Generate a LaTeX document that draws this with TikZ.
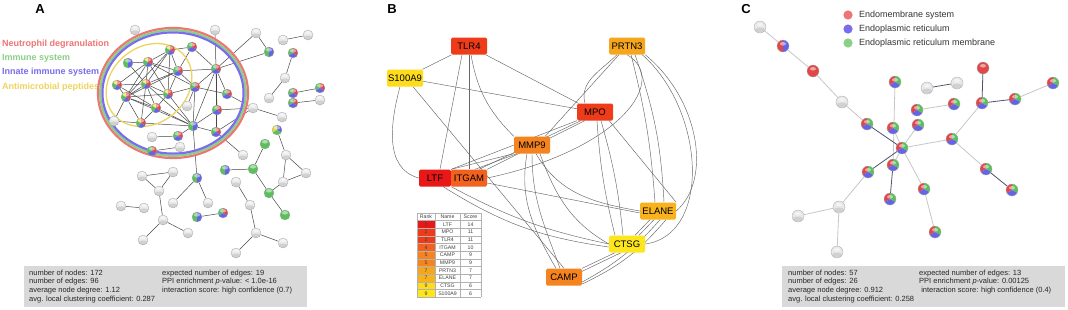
\documentclass[tikz,border=0pt]{standalone}
\usepackage{fontspec}
\setmainfont{Liberation Sans}
\pgfdeclarelayer{background}
\pgfdeclarelayer{edges}
\pgfsetlayers{background,edges,main}

\definecolor{pred}{HTML}{E04848}
\definecolor{pgreen}{HTML}{5CBF5C}
\definecolor{pblue}{HTML}{6464E6}
\definecolor{pyel}{HTML}{E2D83C}
\definecolor{lred}{HTML}{F07474}
\definecolor{lgreen}{HTML}{8CCF86}
\definecolor{lblue}{HTML}{7A6CEC}
\definecolor{lyel}{HTML}{EED45E}
\definecolor{boxgray}{HTML}{D9D9D9}
\definecolor{edgedark}{HTML}{4E5470}
\definecolor{rk1}{HTML}{E81818}
\definecolor{rk2}{HTML}{EE3C1A}
\definecolor{rk4}{HTML}{F2621E}
\definecolor{rk5}{HTML}{F58420}
\definecolor{rk7}{HTML}{F6A61C}
\definecolor{rk7b}{HTML}{F7B21C}
\definecolor{rk9}{HTML}{FDDC1C}
\definecolor{rk9b}{HTML}{FDE61C}

\newcommand\pwedge[3]{\fill[#1] (path picture bounding box.center) -- ++(#2:8pt) arc[start angle=#2,end angle=#3,radius=8pt] -- cycle;}
\newcommand\gloss{\fill[white,opacity=.5] ([yshift=2.2pt]path picture bounding box.center) ellipse [x radius=3pt, y radius=1.8pt];}

\tikzset{
  ppi/.style={circle, inner sep=0pt, draw=black!35, line width=0.3pt},
  ppiA/.style={ppi, minimum size=10pt},
  ppiC/.style={ppi, minimum size=12pt},
  gball/.style={fill=black!9, draw=black!35, path picture={\fill[black!18] ([yshift=-3pt]path picture bounding box.center) ellipse [x radius=5pt, y radius=2.5pt];\gloss}},
  gfull/.style={fill=pgreen, path picture={\gloss}},
  rfull/.style={fill=pred, path picture={\gloss}},
  rgb/.style={path picture={\pwedge{pred}{-30}{90}\pwedge{pgreen}{90}{210}\pwedge{pblue}{210}{330}\gloss}},
  rgbc/.style={path picture={\pwedge{pred}{90}{210}\pwedge{pgreen}{-30}{90}\pwedge{pblue}{210}{330}\gloss}},
  rgby/.style={path picture={\pwedge{pyel}{90}{150}\pwedge{pgreen}{150}{240}\pwedge{pblue}{240}{330}\pwedge{pred}{-30}{90}\gloss}},
  ygb/.style={path picture={\pwedge{pyel}{90}{210}\pwedge{pblue}{-30}{90}\pwedge{pgreen}{210}{330}\gloss}},
  gb/.style={path picture={\pwedge{pgreen}{90}{270}\pwedge{pblue}{-90}{90}\gloss}},
  rb/.style={path picture={\pwedge{pred}{90}{270}\pwedge{pblue}{-90}{90}\gloss}},
  ppiedge/.style={draw=black!72, line width=0.5pt},
  lightedge/.style={draw=black!22, line width=0.8pt},
  darkedge/.style={draw=edgedark, line width=0.8pt},
  hub/.style={draw=black!60, line width=0.45pt},
  hubbox/.style={rounded corners=1.5pt, minimum width=36pt, minimum height=17pt, inner sep=0pt, font=\fontsize{9.5}{10}\selectfont},
  tab/.style={inner sep=0pt, font=\fontsize{5.2}{5.5}\selectfont, text=black!75},
  stat/.style={inner sep=0pt, align=left, anchor=north west, font=\fontsize{7.5}{8.7}\selectfont, text=black!85},
  panel/.style={font=\bfseries\fontsize{13}{13}\selectfont},
  term/.style={anchor=west, inner sep=0pt, font=\bfseries\fontsize{9}{10}\selectfont},
  legC/.style={anchor=west, inner sep=0pt, font=\fontsize{9}{10}\selectfont, text=black!80}
}

\begin{document}
\begin{tikzpicture}[x=1pt,y=-1pt]
  \begin{pgfonlayer}{background}
    \fill[white] (0,0) rectangle (1068,309);
  \end{pgfonlayer}
  \useasboundingbox (0,0) rectangle (1068,309);

  %%%%% A %%%%%
  \node[panel] (labA) at (40,9) {A};
  \node[term, text=lred] (tND) at (2,44) {Neutrophil degranulation};
  \node[term, text=lgreen] (tIS) at (2,58) {Immune system};
  \node[term, text=lblue] (tIIS) at (2,72) {Innate immune system};
  \node[term, text=lyel] (tAP) at (2,87) {Antimicrobial peptides};

  \draw[lred, line width=2.2pt] (173,93) ellipse [x radius=75, y radius=65];
  \draw[lgreen, line width=2.2pt] (173,93) ellipse [x radius=72.8, y radius=62.8];
  \draw[lblue, line width=2.2pt] (173,93) ellipse [x radius=70.6, y radius=60.6];
  \draw[lyel, line width=1.3pt, rotate around={40:(149,85)}] (149,85) ellipse [x radius=46, y radius=38];

  \node[ppiA, gball] (aCP) at (135,30) {};
  \node[ppiA, gball] (aT1) at (215,30) {};
  \node[ppiA, gball] (aT2) at (256,33) {};
  \node[ppiA, gball] (aT3) at (283,40) {};
  \node[ppiA, gball] (aT4) at (308,35) {};
  \node[ppiA, gb] (aO1) at (269,52) {};
  \node[ppiA, rgb] (aO2) at (293,53) {};
  \node[ppiA, gball] (aO3) at (285,78) {};
  \node[ppiA, gball] (aO4) at (269,98) {};
  \node[ppiA, rgb] (aO5) at (293,93) {};
  \node[ppiA, rgb] (aO6) at (320,88) {};
  \node[ppiA, rgb] (aO7) at (293,103) {};
  \node[ppiA, gball] (aO8) at (320,100) {};
  \node[ppiA, gball] (aO9) at (253,108) {};
  \node[ppiA, gball] (aO10) at (282,117) {};
  \node[ppiA, ygb] (aO11) at (277,130) {};
  \node[ppiA, gfull] (aO12) at (265,144) {};
  \node[ppiA, gball] (aO13) at (243,155) {};
  \node[ppiA, gball] (aO14) at (286,155) {};

  \node[ppiA, rgby] (i1) at (170,50) {};
  \node[ppiA, rgb] (i2) at (192,47) {};
  \node[ppiA, gb] (i3) at (128,63) {};
  \node[ppiA, rgby] (i4) at (148,62) {};
  \node[ppiA, rgb] (i5) at (178,71) {};
  \node[ppiA, rgb] (i6) at (216,69) {};
  \node[ppiA, rgby] (i7) at (117,85) {};
  \node[ppiA, rgby] (i8) at (146,84) {};
  \node[ppiA, rgby] (i9) at (168,94) {};
  \node[ppiA, rgb] (i10) at (195,87) {};
  \node[ppiA, rgb] (i11) at (227,94) {};
  \node[ppiA, rgby] (i12) at (126,97) {};
  \node[ppiA, gball] (i13) at (187,106) {};
  \node[ppiA, rgb] (i14) at (217,110) {};
  \node[ppiA, rgby] (i15) at (156,108) {};
  \node[ppiA, gball] (i16) at (114,121) {};
  \node[ppiA, rgby] (i17) at (141,123) {};
  \node[ppiA, gb] (i18) at (193,126) {};
  \node[ppiA, rgb] (i19) at (216,132) {};
  \node[ppiA, gball] (i20) at (152,137) {};
  \node[ppiA, rgb] (i21) at (178,136) {};
  \node[ppiA, gball] (i22) at (180,147) {};
  \node[ppiA, rgb] (i23) at (152,151) {};

  \node[ppiA, gb] (b1) at (225,170) {};
  \node[ppiA, gfull] (b2) at (253,169) {};
  \node[ppiA, gball] (b3) at (173,172) {};
  \node[ppiA, gball] (b4) at (142,176) {};
  \node[ppiA, gb] (b5) at (197,178) {};
  \node[ppiA, gball] (b6) at (236,182) {};
  \node[ppiA, gball] (b7) at (306,173) {};
  \node[ppiA, gball] (b8) at (283,182) {};
  \node[ppiA, gball] (b9) at (159,191) {};
  \node[ppiA, gfull] (b10) at (269,193) {};
  \node[ppiA, gball] (b11) at (121,206) {};
  \node[ppiA, gball] (b12) at (144,208) {};
  \node[ppiA, gball] (b13) at (173,203) {};
  \node[ppiA, gball] (b14) at (208,203) {};
  \node[ppiA, gball] (b15) at (250,205) {};
  \node[ppiA, gball] (b16) at (163,220) {};
  \node[ppiA, gb] (b17) at (197,217) {};
  \node[ppiA, rgb] (b18) at (223,213) {};
  \node[ppiA, gfull] (b19) at (285,215) {};
  \node[ppiA, gball] (b20) at (188,233) {};
  \node[ppiA, gball] (b21) at (143,240) {};
  \node[ppiA, gball] (b22) at (256,233) {};
  \node[ppiA, gball] (b23) at (283,243) {};
  \node[ppiA, gball] (b24) at (236,253) {};

  \begin{pgfonlayer}{edges}
    \foreach \a/\b in {aT2/aO1, aT3/aT4, aT2/i6, aO1/i6, aT1/i6, aO2/aO3, aO3/aO4,
      aO5/aO6, aO7/aO8, aO9/aO10, aO9/i11, aO9/i14, aO9/i19, aO11/aO14, aO12/b2,
      b1/b2, b2/b10, b10/b19, b8/b10, aO14/b7, b7/b8, aO14/b8, i19/aO13, b6/b15,
      b15/b22, b22/b23, b22/b24, b5/i18, b5/b13, b5/b14, b17/b18, b3/b4, b4/b9,
      b3/b9, b9/b16, b16/b21, b16/b20, b11/b12, i20/i21, i22/i23,
      i1/i4, i1/i5, i1/i8, i1/i9, i1/i12, i1/i2, i4/i3, i4/i8, i4/i5, i4/i9,
      i4/i12, i4/i7, i4/i10, i5/i8, i5/i9, i5/i12, i5/i6, i5/i10, i7/i8, i7/i12,
      i7/i15, i8/i9, i8/i12, i8/i15, i8/i17, i8/i18, i9/i15, i9/i12, i9/i18,
      i9/i10, i12/i17, i12/i16, i12/i18, i12/i15, i15/i17, i15/i18, i17/i18,
      i16/i17, i6/i10, i6/i11, i6/i14, i6/i18, i6/i19, i10/i18, i10/i13,
      i10/i11, i18/i19, i18/i14, i18/i21, i2/i6, i2/i5, i3/i8}
      \draw[ppiedge] (\a) -- (\b);
  \end{pgfonlayer}

  \fill[boxgray] (24,266) rectangle (307,307);
  \node[stat] (statAL) at (29,269.5) {number of nodes: 172\\number of edges: 96\\average node degree: 1.12\\avg. local clustering coefficient: 0.287};
  \node[stat] (statAR) at (162,269.5) {expected number of edges: 19\\PPI enrichment \textit{p}-value: < 1.0e-16\\interaction score: high confidence (0.7)};

  %%%%% B %%%%%
  \node[panel] (labB) at (392,9) {B};
  \node[hubbox, fill=rk2] (tlr) at (469,46) {TLR4};
  \node[hubbox, fill=rk7] (prt) at (627,46) {PRTN3};
  \node[hubbox, fill=rk9] (s100) at (405,78) {S100A9};
  \node[hubbox, fill=rk2] (mpo) at (595,112) {MPO};
  \node[hubbox, fill=rk5] (mmp) at (532,145) {MMP9};
  \node[hubbox, fill=rk1, minimum width=32pt] (ltf) at (435,178) {LTF};
  \node[hubbox, fill=rk4] (itg) at (469,178) {ITGAM};
  \node[hubbox, fill=rk7b] (ela) at (658,211) {ELANE};
  \node[hubbox, fill=rk9b] (cts) at (627,244) {CTSG};
  \node[hubbox, fill=rk5] (camp) at (564,277) {CAMP};

  \begin{pgfonlayer}{edges}
    \draw[hub] (tlr) -- (s100);
    \draw[hub] (tlr) -- (mpo);
    \draw[hub] ([xshift=-7pt]tlr.south) -- ([xshift=5pt]ltf.north);
    \draw[hub] (tlr.south) -- (itg.north);
    \draw[hub] ([xshift=2pt]tlr.south) to[out=-80,in=135] (mmp.north west);
    \draw[hub] (s100) -- (mpo);
    \draw[hub] ([xshift=8pt]s100.south) -- (camp.north);
    \draw[hub] ([xshift=-5pt]s100.south) to[out=-105,in=165] (ltf.west);
    \draw[hub] ([xshift=-8pt]prt.south) -- ([xshift=-5pt]mmp.north east);
    \draw[hub] ([xshift=-10pt]prt.south) to[out=-135,in=105] ([xshift=-10pt]mpo.north);
    \draw[hub] (prt.south) .. controls (670,80) and (620,150) .. (itg.east);
    \draw[hub] ([xshift=4pt]prt.south) to[bend left=5] ([xshift=-3pt]ela.north);
    \draw[hub] ([xshift=8pt]prt.south) to[bend left=8] ([xshift=6pt]ela.north);
    \draw[hub] (prt.south east) .. controls (700,100) and (712,180) .. (ela.east);
    \draw[hub] ([xshift=-3pt]prt.south east) .. controls (705,110) and (712,235) .. (cts.east);
    \draw[hub] (mpo.south west) -- (ltf.north east);
    \draw[hub] ([xshift=4pt]mpo.south west) -- ([xshift=10pt]itg.north);
    \draw[hub] ([xshift=8pt]mpo.south west) -- (itg.north east);
    \draw[hub] ([xshift=2pt]mpo.south) to[bend right=5] ([xshift=-12pt]cts.north);
    \draw[hub] ([xshift=6pt]mpo.south) to[bend left=5] ([xshift=-4pt]cts.north);
    \draw[hub] ([xshift=-4pt]mpo.south east) -- (ela.north east);
    \draw[hub] (mmp.south west) -- (ltf.north east);
    \draw[hub] ([xshift=3pt]mmp.south west) -- ([xshift=6pt]itg.north);
    \draw[hub] ([xshift=-5pt]mmp.south) to[out=-100,in=120] ([xshift=-8pt]camp.north);
    \draw[hub] (mmp.south) to[out=-90,in=110] ([xshift=-4pt]camp.north);
    \draw[hub] ([xshift=4pt]mmp.south) to[out=-60,in=170] (ela.west);
    \draw[hub] ([xshift=8pt]mmp.south) to[out=-70,in=150] (cts.west);
    \draw[hub] ([yshift=-5pt]itg.east) -- ([yshift=-2pt]ela.west);
    \draw[hub] (ltf.south east) to[bend right=8] (cts.west);
    \draw[hub] ([xshift=-8pt]ltf.south east) to[bend right=12] ([yshift=-3pt]cts.west);
    \draw[hub] ([xshift=-8pt]ela.south) -- ([xshift=8pt]cts.north);
    \draw[hub] ([xshift=-4pt]ela.south) -- ([xshift=12pt]cts.north);
    \draw[hub] (camp.north east) -- ([xshift=-12pt]cts.south);
    \draw[hub] ([yshift=-3pt]camp.north east) -- ([xshift=-6pt]cts.south);
    \draw[hub] ([yshift=-5pt]camp.east) to[bend right=10] ([xshift=2pt]ela.south);
    \draw[hub] ([yshift=-7pt]camp.east) to[bend right=12] ([xshift=8pt]ela.south);
  \end{pgfonlayer}

  \foreach \rk/\nm/\sc/\cl [count=\i] in {1/LTF/14/rk1, 2/MPO/11/rk2, 2/TLR4/11/rk2,
      4/ITGAM/10/rk4, 5/CAMP/9/rk5, 5/MMP9/9/rk5, 7/PRTN3/7/rk7, 7/ELANE/7/rk7b,
      9/CTSG/6/rk9, 9/S100A9/6/rk9b} {
    \fill[\cl] (417,{213+\i*7.64}) rectangle (435,{213+(\i+1)*7.64});
    \node[tab] (rk\i) at (426,{213+(\i+0.5)*7.64}) {\rk};
    \node[tab] (nm\i) at (447.5,{213+(\i+0.5)*7.64}) {\nm};
    \node[tab] (sc\i) at (470.5,{213+(\i+0.5)*7.64}) {\sc};
  }
  \node[tab] (hRank) at (426,216.8) {Rank};
  \node[tab] (hName) at (447.5,216.8) {Name};
  \node[tab] (hScore) at (470.5,216.8) {Score};
  \foreach \i in {0,...,11}
    \draw[black!30, line width=0.3pt] (417,{213+\i*7.64}) -- (481,{213+\i*7.64});
  \foreach \x in {417,435,460,481}
    \draw[black!30, line width=0.3pt] (\x,213) -- (\x,297.04);

  %%%%% C %%%%%
  \node[panel] (labC) at (746,9) {C};
  \fill[lred] (848,15) circle (4.6);
  \fill[lblue] (848,29) circle (4.6);
  \fill[lgreen] (848,43) circle (4.6);
  \node[legC] (lEM) at (859,15) {Endomembrane system};
  \node[legC] (lER) at (859,29) {Endoplasmic reticulum};
  \node[legC] (lERM) at (859,43) {Endoplasmic reticulum membrane};

  \node[ppiC, gball] (cFB) at (760,27) {};
  \node[ppiC, rb] (cCOL) at (783,46) {};
  \node[ppiC, rfull] (cSN) at (813,71) {};
  \node[ppiC, gball] (cRPS) at (842,102) {};
  \node[ppiC, rgbc] (cDER) at (867,124) {};
  \node[ppiC, rgbc] (cEMC) at (895,82) {};
  \node[ppiC, gball] (cTM) at (927,88) {};
  \node[ppiC, gball] (cND) at (957,83) {};
  \node[ppiC, rfull] (cTMPO) at (983,68) {};
  \node[ppiC, rgbc] (cLBR) at (982,103) {};
  \node[ppiC, rgbc] (cSQ) at (1015,99) {};
  \node[ppiC, rgbc] (cCYP) at (1053,83) {};
  \node[ppiC, rgbc] (cLMF) at (917,110) {};
  \node[ppiC, rgbc] (cREEP) at (954,104) {};
  \node[ppiC, rgbc] (cERP) at (893,128) {};
  \node[ppiC, rgbc] (cARM) at (918,125) {};
  \node[ppiC, rgbc] (cSEC) at (902,148) {};
  \node[ppiC, rgbc] (cVAP) at (952,139) {};
  \node[ppiC, rgbc] (cTUS) at (893,165) {};
  \node[ppiC, rgbc] (cSRP) at (868,172) {};
  \node[ppiC, rgbc] (cALG) at (890,199) {};
  \node[ppiC, rgbc] (cUFL) at (924,189) {};
  \node[ppiC, rgbc] (cES2) at (986,169) {};
  \node[ppiC, rgbc] (cES3) at (1012,190) {};
  \node[ppiC, gball] (cTMM) at (798,216) {};
  \node[ppiC, gball] (cCOQ) at (839,207) {};
  \node[ppiC, gball] (cDAT) at (837,252) {};
  \node[ppiC, rgbc] (cSRD) at (935,232) {};

  \begin{pgfonlayer}{edges}
    \foreach \a/\b in {cFB/cCOL, cCOL/cSN, cSN/cRPS, cRPS/cDER, cEMC/cTUS, cERP/cSEC,
      cARM/cSEC, cSEC/cVAP, cSEC/cUFL, cTUS/cSEC, cLMF/cREEP, cSQ/cCYP, cLBR/cVAP,
      cVAP/cES2, cSRP/cCOQ, cTMM/cCOQ, cCOQ/cDAT, cUFL/cSRD}
      \draw[lightedge] (\a) -- (\b);
    \foreach \a/\b in {cDER/cSEC, cSEC/cSRP, cTUS/cALG, cTM/cND, cTMPO/cLBR, cLBR/cSQ, cES2/cES3}
      \draw[darkedge] (\a) -- (\b);
  \end{pgfonlayer}

  \fill[boxgray] (782,266) rectangle (1065,307);
  \node[stat] (statCL) at (788,269.5) {number of nodes: 57\\number of edges: 26\\average node degree: 0.912\\avg. local clustering coefficient: 0.258};
  \node[stat] (statCR) at (919,269.5) {expected number of edges: 13\\PPI enrichment \textit{p}-value: 0.00125\\\ interaction score: high confidence (0.4)};
\end{tikzpicture}
\end{document}
